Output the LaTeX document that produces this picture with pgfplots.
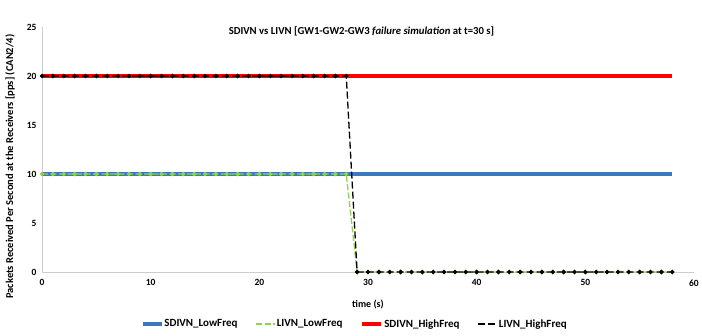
\documentclass[border=0pt]{standalone}
\usepackage{fontspec}
\setmainfont{Carlito}
\usepackage{pgfplots}
\pgfplotsset{compat=1.18}
\usepackage{pgfplotstable}

\definecolor{sdblue}{HTML}{3C78C0}
\definecolor{livgreen}{HTML}{92D050}
\definecolor{sdred}{HTML}{FF0000}

% t, SDIVN_LowFreq, LIVN_LowFreq, SDIVN_HighFreq, LIVN_HighFreq
\pgfplotstableread{
t  sl  ll  sh  lh
0  10  10  20  20
1  10  10  20  20
2  10  10  20  20
3  10  10  20  20
4  10  10  20  20
5  10  10  20  20
6  10  10  20  20
7  10  10  20  20
8  10  10  20  20
9  10  10  20  20
10 10  10  20  20
11 10  10  20  20
12 10  10  20  20
13 10  10  20  20
14 10  10  20  20
15 10  10  20  20
16 10  10  20  20
17 10  10  20  20
18 10  10  20  20
19 10  10  20  20
20 10  10  20  20
21 10  10  20  20
22 10  10  20  20
23 10  10  20  20
24 10  10  20  20
25 10  10  20  20
26 10  10  20  20
27 10  10  20  20
28 10  10  20  20
29 10  0   20  0
30 10  0   20  0
31 10  0   20  0
32 10  0   20  0
33 10  0   20  0
34 10  0   20  0
35 10  0   20  0
36 10  0   20  0
37 10  0   20  0
38 10  0   20  0
39 10  0   20  0
40 10  0   20  0
41 10  0   20  0
42 10  0   20  0
43 10  0   20  0
44 10  0   20  0
45 10  0   20  0
46 10  0   20  0
47 10  0   20  0
48 10  0   20  0
49 10  0   20  0
50 10  0   20  0
51 10  0   20  0
52 10  0   20  0
53 10  0   20  0
54 10  0   20  0
55 10  0   20  0
56 10  0   20  0
57 10  0   20  0
58 10  0   20  0
}\data

\begin{document}
\begin{tikzpicture}
\useasboundingbox (-42pt,-63pt) rectangle (660pt,272pt);
\begin{axis}[
  at={(0,0)}, anchor=south west,
  scale only axis,
  width=652pt, height=245pt,
  xmin=0, xmax=60, ymin=0, ymax=25,
  xtick={0,10,...,60}, ytick={0,5,...,25},
  axis x line*=bottom, axis y line*=left,
  axis line style={-, draw=black!20, line width=0.6pt},
  tick style={draw=none},
  font=\fontsize{9.5}{11}\selectfont\bfseries,
  /pgf/number format/assume math mode=true,
  xticklabel style={yshift=-4pt},
  yticklabel style={xshift=-2pt},
  xlabel={time (s)},
  ylabel={Packets Received Per Second at the Receivers [pps] (CAN2/4)},
  xlabel style={at={(axis description cs:0.5,0)}, anchor=center, yshift=-33pt, font=\fontsize{10}{12}\selectfont\bfseries},
  ylabel style={at={(axis description cs:-0.049,0.43)}, anchor=center, font=\fontsize{10.5}{12}\selectfont\bfseries},
  title={SDIVN vs LIVN [GW1-GW2-GW3 \textit{failure simulation} at t=30 s]},
  title style={at={(axis description cs:0.49,0.958)}, anchor=center, font=\fontsize{10.7}{12}\selectfont\bfseries},
  legend style={at={(axis description cs:0.48,0)}, anchor=center, yshift=-52pt, draw=none, legend columns=4,
    font=\fontsize{11}{13}\selectfont\bfseries, inner sep=0pt,
    /tikz/every odd column/.append style={column sep=-1pt},
    /tikz/every even column/.append style={column sep=16pt}},
  legend image code/.code={\draw[#1] (0pt,0pt) -- (19pt,0pt);},
]
\addplot[sdblue, line width=3.2pt] table[x=t, y=sl] {\data};
\addlegendentry{SDIVN\_LowFreq}
\addplot[livgreen, line width=1.3pt, dash pattern=on 6pt off 2.5pt, mark=*, mark size=1.5pt, mark options={solid}] table[x=t, y=ll] {\data};
\addlegendentry{LIVN\_LowFreq}
\addplot[sdred, line width=3.8pt] table[x=t, y=sh] {\data};
\addlegendentry{SDIVN\_HighFreq}
\addplot[black, line width=1.3pt, dash pattern=on 7pt off 3pt, mark=*, mark size=1.5pt, mark options={solid}] table[x=t, y=lh] {\data};
\addlegendentry{LIVN\_HighFreq}
\end{axis}
\end{tikzpicture}
\end{document}
